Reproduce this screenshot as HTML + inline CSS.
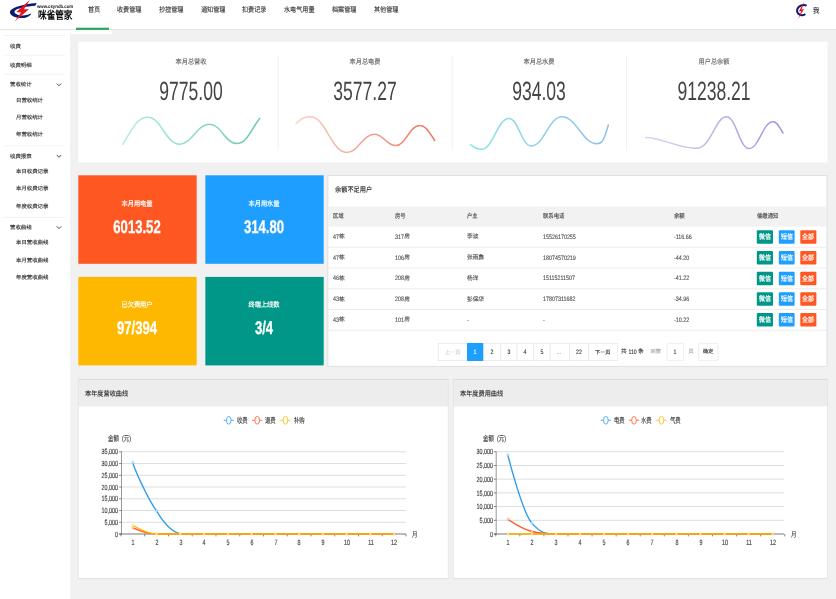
<!DOCTYPE html>
<html lang="zh-CN"><head><meta charset="utf-8"><title>咪雀管家</title>
<style>
html,body{margin:0;padding:0;}
body{width:836px;height:599px;overflow:hidden;position:relative;background:#f1f1f1;font-family:"Liberation Sans",sans-serif;}
.t{position:absolute;white-space:pre;margin:0;padding:0;text-rendering:geometricPrecision;}
.b{position:absolute;}
svg{position:absolute;left:0;top:0;overflow:visible;}
#root{position:absolute;left:0;top:0;width:836px;height:599px;overflow:hidden;will-change:transform;}
</style></head><body><div id="root">
<svg width="836" height="599" viewBox="0 0 836 599"><rect x="0.00" y="0.00" width="836.00" height="29.20" fill="#fff"/><path d="M0.00 29.50 L836.00 29.50" stroke="#e2e2e2" stroke-width="0.8"/></svg>
<svg width="80" height="24" viewBox="0 0 80 24">
<path d="M36.8 3.1 C30 3.4 20.5 5.4 14.5 7.8 C10.4 9.5 9.1 11.8 10.5 13.9 C12.5 16.9 18.5 18.5 24.5 17.9 C27.8 17.6 30.4 15.7 31.4 13.3 C29.6 14.4 26.2 15.4 22.6 15.4 C18.6 15.4 14.8 14 14.5 11.9 C14.3 10.2 16.8 9 21 7.9 C26 6.6 31.5 5.9 35.2 5.7 Z" fill="#0c1a74"/>
<path d="M29.9 0 L16.3 12.1 L21.1 12.4 L14.8 21.3 L28.9 9.3 L24 9.2 Z" fill="#e8141c"/>
</svg>
<div class="t" style="top:3.98px;height:7.84px;line-height:7.84px;font-size:4.9px;color:#111;font-weight:bold;left:37.30px;transform:scaleX(0.88);transform-origin:0 50%;">www.csyndb.com</div>
<div class="t" style="top:7.80px;height:17.6px;line-height:17.6px;font-size:11.0px;color:#111;font-weight:bold;left:37.80px;transform:scaleX(0.78);transform-origin:0 50%;">咪雀管家</div>
<div class="t" style="top:5.30px;height:11.2px;line-height:11.2px;font-size:7.0px;color:#2e2e2e;left:87.60px;transform:scaleX(0.875);transform-origin:0 50%;-webkit-text-stroke:0.1px #2e2e2e;">首页</div>
<div class="t" style="top:5.30px;height:11.2px;line-height:11.2px;font-size:7.0px;color:#2e2e2e;left:117.20px;transform:scaleX(0.875);transform-origin:0 50%;-webkit-text-stroke:0.1px #2e2e2e;">收费管理</div>
<div class="t" style="top:5.30px;height:11.2px;line-height:11.2px;font-size:7.0px;color:#2e2e2e;left:158.90px;transform:scaleX(0.875);transform-origin:0 50%;-webkit-text-stroke:0.1px #2e2e2e;">抄控管理</div>
<div class="t" style="top:5.30px;height:11.2px;line-height:11.2px;font-size:7.0px;color:#2e2e2e;left:200.60px;transform:scaleX(0.875);transform-origin:0 50%;-webkit-text-stroke:0.1px #2e2e2e;">通知管理</div>
<div class="t" style="top:5.30px;height:11.2px;line-height:11.2px;font-size:7.0px;color:#2e2e2e;left:242.30px;transform:scaleX(0.875);transform-origin:0 50%;-webkit-text-stroke:0.1px #2e2e2e;">扣费记录</div>
<div class="t" style="top:5.30px;height:11.2px;line-height:11.2px;font-size:7.0px;color:#2e2e2e;left:284.00px;transform:scaleX(0.875);transform-origin:0 50%;-webkit-text-stroke:0.1px #2e2e2e;">水电气用量</div>
<div class="t" style="top:5.30px;height:11.2px;line-height:11.2px;font-size:7.0px;color:#2e2e2e;left:331.90px;transform:scaleX(0.875);transform-origin:0 50%;-webkit-text-stroke:0.1px #2e2e2e;">档案管理</div>
<div class="t" style="top:5.30px;height:11.2px;line-height:11.2px;font-size:7.0px;color:#2e2e2e;left:373.60px;transform:scaleX(0.875);transform-origin:0 50%;-webkit-text-stroke:0.1px #2e2e2e;">其他管理</div>
<svg width="836" height="599" viewBox="0 0 836 599"><rect x="76.00" y="27.70" width="33.00" height="2.20" fill="#2aa55c"/></svg>
<svg width="836" height="30" viewBox="0 0 836 30">
<path d="M806.6 5.6 C803.4 4.2 798.4 5.6 797.2 9.4 C796.2 13 799.4 15.6 802.6 15.2 C803.6 15.1 804.6 14.6 805.2 14" fill="none" stroke="#0c1a74" stroke-width="2"/>
<path d="M804.3 1.6 L798.8 11.4 L801.3 11.1 L798 19.2 L804 9.1 L801.5 9.4 Z" fill="#e8141c"/>
</svg>
<div class="t" style="top:5.44px;height:11.52px;line-height:11.52px;font-size:7.2px;color:#2e2e2e;left:812.60px;transform:scaleX(0.88);transform-origin:0 50%;-webkit-text-stroke:0.1px #2e2e2e;">我</div>
<svg width="836" height="599" viewBox="0 0 836 599"><rect x="70.50" y="30.30" width="41.50" height="3.70" fill="#fff"/><rect x="0.00" y="30.30" width="70.00" height="568.70" fill="#fff"/><path d="M4.00 35.50 L65.00 35.50" stroke="#efefef" stroke-width="0.8"/><path d="M4.00 55.20 L65.00 55.20" stroke="#efefef" stroke-width="0.8"/><path d="M4.00 74.10 L65.00 74.10" stroke="#efefef" stroke-width="0.8"/><path d="M4.00 145.80 L65.00 145.80" stroke="#efefef" stroke-width="0.8"/><path d="M4.00 217.40 L65.00 217.40" stroke="#efefef" stroke-width="0.8"/></svg>
<div class="t" style="top:42.74px;height:8.32px;line-height:8.32px;font-size:5.2px;color:#333;left:9.80px;transform:scaleX(1.04);transform-origin:0 50%;-webkit-text-stroke:0.13px #333;">收费</div>
<div class="t" style="top:61.64px;height:8.32px;line-height:8.32px;font-size:5.2px;color:#333;left:9.80px;transform:scaleX(1.04);transform-origin:0 50%;-webkit-text-stroke:0.13px #333;">收费明细</div>
<div class="t" style="top:81.44px;height:8.32px;line-height:8.32px;font-size:5.2px;color:#333;left:9.80px;transform:scaleX(1.04);transform-origin:0 50%;-webkit-text-stroke:0.13px #333;">营收统计</div>
<svg width="70" height="599" viewBox="0 0 70 599"><path d="M56.8 83.5 L59 85.8 L61.2 83.5" fill="none" stroke="#444" stroke-width="0.95"/></svg>
<div class="t" style="top:152.94px;height:8.32px;line-height:8.32px;font-size:5.2px;color:#333;left:9.80px;transform:scaleX(1.04);transform-origin:0 50%;-webkit-text-stroke:0.13px #333;">收费报表</div>
<svg width="70" height="599" viewBox="0 0 70 599"><path d="M56.8 155.0 L59 157.3 L61.2 155.0" fill="none" stroke="#444" stroke-width="0.95"/></svg>
<div class="t" style="top:224.24px;height:8.32px;line-height:8.32px;font-size:5.2px;color:#333;left:9.80px;transform:scaleX(1.04);transform-origin:0 50%;-webkit-text-stroke:0.13px #333;">营收曲线</div>
<svg width="70" height="599" viewBox="0 0 70 599"><path d="M56.8 226.3 L59 228.60000000000002 L61.2 226.3" fill="none" stroke="#444" stroke-width="0.95"/></svg>
<div class="t" style="top:96.64px;height:8.32px;line-height:8.32px;font-size:5.2px;color:#333;left:15.90px;transform:scaleX(1.04);transform-origin:0 50%;-webkit-text-stroke:0.13px #333;">日营收统计</div>
<div class="t" style="top:113.84px;height:8.32px;line-height:8.32px;font-size:5.2px;color:#333;left:15.90px;transform:scaleX(1.04);transform-origin:0 50%;-webkit-text-stroke:0.13px #333;">月营收统计</div>
<div class="t" style="top:130.84px;height:8.32px;line-height:8.32px;font-size:5.2px;color:#333;left:15.90px;transform:scaleX(1.04);transform-origin:0 50%;-webkit-text-stroke:0.13px #333;">年营收统计</div>
<div class="t" style="top:168.24px;height:8.32px;line-height:8.32px;font-size:5.2px;color:#333;left:15.90px;transform:scaleX(1.04);transform-origin:0 50%;-webkit-text-stroke:0.13px #333;">本日收费记录</div>
<div class="t" style="top:185.34px;height:8.32px;line-height:8.32px;font-size:5.2px;color:#333;left:15.90px;transform:scaleX(1.04);transform-origin:0 50%;-webkit-text-stroke:0.13px #333;">本月收费记录</div>
<div class="t" style="top:202.54px;height:8.32px;line-height:8.32px;font-size:5.2px;color:#333;left:15.90px;transform:scaleX(1.04);transform-origin:0 50%;-webkit-text-stroke:0.13px #333;">年度收费记录</div>
<div class="t" style="top:239.44px;height:8.32px;line-height:8.32px;font-size:5.2px;color:#333;left:15.90px;transform:scaleX(1.04);transform-origin:0 50%;-webkit-text-stroke:0.13px #333;">本日营收曲线</div>
<div class="t" style="top:256.54px;height:8.32px;line-height:8.32px;font-size:5.2px;color:#333;left:15.90px;transform:scaleX(1.04);transform-origin:0 50%;-webkit-text-stroke:0.13px #333;">本月营收曲线</div>
<div class="t" style="top:274.14px;height:8.32px;line-height:8.32px;font-size:5.2px;color:#333;left:15.90px;transform:scaleX(1.04);transform-origin:0 50%;-webkit-text-stroke:0.13px #333;">年度营收曲线</div>
<svg width="836" height="599" viewBox="0 0 836 599"><rect x="78.30" y="41.80" width="749.20" height="120.60" fill="#fff"/><path d="M278.10 55.00 L278.10 150.60" stroke="#eeeeee" stroke-width="0.8"/><path d="M452.30 55.00 L452.30 150.60" stroke="#eeeeee" stroke-width="0.8"/><path d="M626.50 55.00 L626.50 150.60" stroke="#eeeeee" stroke-width="0.8"/></svg>
<div class="t" style="top:56.60px;height:11.2px;line-height:11.2px;font-size:7.0px;color:#666;-webkit-text-stroke:0.12px #666;left:91.20px;width:200px;text-align:center;transform:scaleX(0.885);transform-origin:50% 50%;">本月总营收</div>
<div class="t" style="top:70.48px;height:42.24px;line-height:42.24px;font-size:26.4px;color:#444;left:61.20px;width:260px;text-align:center;transform:scaleX(0.665);transform-origin:50% 50%;">9775.00</div>
<div class="t" style="top:56.60px;height:11.2px;line-height:11.2px;font-size:7.0px;color:#666;-webkit-text-stroke:0.12px #666;left:265.30px;width:200px;text-align:center;transform:scaleX(0.885);transform-origin:50% 50%;">本月总电费</div>
<div class="t" style="top:70.48px;height:42.24px;line-height:42.24px;font-size:26.4px;color:#444;left:235.30px;width:260px;text-align:center;transform:scaleX(0.665);transform-origin:50% 50%;">3577.27</div>
<div class="t" style="top:56.60px;height:11.2px;line-height:11.2px;font-size:7.0px;color:#666;-webkit-text-stroke:0.12px #666;left:439.40px;width:200px;text-align:center;transform:scaleX(0.885);transform-origin:50% 50%;">本月总水费</div>
<div class="t" style="top:70.48px;height:42.24px;line-height:42.24px;font-size:26.4px;color:#444;left:409.40px;width:260px;text-align:center;transform:scaleX(0.665);transform-origin:50% 50%;">934.03</div>
<div class="t" style="top:56.60px;height:11.2px;line-height:11.2px;font-size:7.0px;color:#666;-webkit-text-stroke:0.12px #666;left:613.60px;width:200px;text-align:center;transform:scaleX(0.885);transform-origin:50% 50%;">用户总余额</div>
<div class="t" style="top:70.48px;height:42.24px;line-height:42.24px;font-size:26.4px;color:#444;left:583.60px;width:260px;text-align:center;transform:scaleX(0.665);transform-origin:50% 50%;">91238.21</div>
<svg width="836" height="599" viewBox="0 0 836 599"><defs><linearGradient id="g1" gradientUnits="userSpaceOnUse" x1="122" y1="0" x2="260" y2="0"><stop offset="0" stop-color="#b4f0dc"/><stop offset="1" stop-color="#66c9aa"/></linearGradient></defs><path d="M122.8 144.3 C133.3 127.4 137.4 117.2 147.9 117.2 C161.1 117.2 166.1 144.3 179.3 144.3 C191.9 144.3 196.8 124.2 209.4 124.2 C221.0 124.2 225.4 143.6 237.0 143.6 C246.5 143.6 250.2 130.8 259.7 118.4" fill="none" stroke="url(#g1)" stroke-width="1.5" stroke-linecap="round"/></svg>
<svg width="836" height="599" viewBox="0 0 836 599"><defs><linearGradient id="g2" gradientUnits="userSpaceOnUse" x1="296" y1="0" x2="435" y2="0"><stop offset="0" stop-color="#fbd0c5"/><stop offset="1" stop-color="#ec7357"/></linearGradient></defs><path d="M296.0 123.5 C302.0 118.1 304.3 116.7 310.3 116.7 C325.6 116.7 331.4 152.4 346.7 152.4 C358.3 152.4 362.8 134.3 374.4 134.3 C383.3 134.3 386.8 145.6 395.7 145.6 C405.7 145.6 409.6 125.5 419.6 125.5 C425.9 125.5 428.4 131.0 434.7 140.5" fill="none" stroke="url(#g2)" stroke-width="1.5" stroke-linecap="round"/></svg>
<svg width="836" height="599" viewBox="0 0 836 599"><defs><linearGradient id="g3" gradientUnits="userSpaceOnUse" x1="470" y1="0" x2="609" y2="0"><stop offset="0" stop-color="#8ee3ea"/><stop offset="1" stop-color="#8cc0e8"/></linearGradient></defs><path d="M470.7 144.8 C475.2 148.0 477.0 149.3 481.5 149.3 C493.1 149.3 497.4 118.4 509.0 118.4 C518.2 118.4 521.8 146.0 531.0 146.0 C544.0 146.0 548.9 116.7 561.9 116.7 C576.6 116.7 582.3 143.8 597.0 143.8 C601.7 143.8 603.6 141.6 608.3 125.0" fill="none" stroke="url(#g3)" stroke-width="1.5" stroke-linecap="round"/></svg>
<svg width="836" height="599" viewBox="0 0 836 599"><defs><linearGradient id="g4" gradientUnits="userSpaceOnUse" x1="645" y1="0" x2="783" y2="0"><stop offset="0" stop-color="#e3cff3"/><stop offset="1" stop-color="#9a98de"/></linearGradient></defs><path d="M645.6 137.5 C660 137.2 678 148.3 696.5 148.3 C711 148.3 715.5 116.7 726.5 116.7  C736.0 116.7 739.5 148.6 749.0 148.6 C759.1 148.6 762.9 121.7 773.0 121.7 C777.2 121.7 778.8 126.3 783.0 133.0" fill="none" stroke="url(#g4)" stroke-width="1.5" stroke-linecap="round"/></svg>
<svg width="836" height="599" viewBox="0 0 836 599"><rect x="78.30" y="175.30" width="118.35" height="88.50" fill="#FF5722"/></svg>
<div class="t" style="top:198.72px;height:11.36px;line-height:11.36px;font-size:7.1px;color:#fff;left:37.40px;width:200px;text-align:center;transform:scaleX(0.87);transform-origin:50% 50%;-webkit-text-stroke:0.18px #fff;">本月用电量</div>
<div class="t" style="top:212.64px;height:29.12px;line-height:29.12px;font-size:18.2px;color:#fff;font-weight:bold;left:37.20px;width:200px;text-align:center;transform:scaleX(0.72);transform-origin:50% 50%;-webkit-text-stroke:0.3px #fff;">6013.52</div>
<svg width="836" height="599" viewBox="0 0 836 599"><rect x="205.35" y="175.30" width="118.35" height="88.50" fill="#1E9FFF"/></svg>
<div class="t" style="top:198.72px;height:11.36px;line-height:11.36px;font-size:7.1px;color:#fff;left:164.45px;width:200px;text-align:center;transform:scaleX(0.87);transform-origin:50% 50%;-webkit-text-stroke:0.18px #fff;">本月用水量</div>
<div class="t" style="top:212.64px;height:29.12px;line-height:29.12px;font-size:18.2px;color:#fff;font-weight:bold;left:164.25px;width:200px;text-align:center;transform:scaleX(0.72);transform-origin:50% 50%;-webkit-text-stroke:0.3px #fff;">314.80</div>
<svg width="836" height="599" viewBox="0 0 836 599"><rect x="78.30" y="276.90" width="118.35" height="88.50" fill="#FFB800"/></svg>
<div class="t" style="top:300.32px;height:11.36px;line-height:11.36px;font-size:7.1px;color:#fff;left:37.40px;width:200px;text-align:center;transform:scaleX(0.87);transform-origin:50% 50%;-webkit-text-stroke:0.18px #fff;">已欠费用户</div>
<div class="t" style="top:314.24px;height:29.12px;line-height:29.12px;font-size:18.2px;color:#fff;font-weight:bold;left:37.20px;width:200px;text-align:center;transform:scaleX(0.72);transform-origin:50% 50%;-webkit-text-stroke:0.3px #fff;">97/394</div>
<svg width="836" height="599" viewBox="0 0 836 599"><rect x="205.35" y="276.90" width="118.35" height="88.50" fill="#009688"/></svg>
<div class="t" style="top:300.32px;height:11.36px;line-height:11.36px;font-size:7.1px;color:#fff;left:164.45px;width:200px;text-align:center;transform:scaleX(0.87);transform-origin:50% 50%;-webkit-text-stroke:0.18px #fff;">终端上线数</div>
<div class="t" style="top:314.24px;height:29.12px;line-height:29.12px;font-size:18.2px;color:#fff;font-weight:bold;left:164.25px;width:200px;text-align:center;transform:scaleX(0.72);transform-origin:50% 50%;-webkit-text-stroke:0.3px #fff;">3/4</div>
<svg width="836" height="599" viewBox="0 0 836 599"><rect x="327.90" y="175.50" width="499.10" height="190.80" fill="#fff" stroke="#dadada" stroke-width="0.8"/></svg>
<div class="t" style="top:184.50px;height:11.2px;line-height:11.2px;font-size:7.0px;color:#222;-webkit-text-stroke:0.12px #222;left:334.90px;transform:scaleX(0.885);transform-origin:0 50%;">余额不足用户</div>
<svg width="836" height="599" viewBox="0 0 836 599"><rect x="328.30" y="206.50" width="498.30" height="20.10" fill="#f2f2f2"/></svg>
<div class="t" style="top:212.24px;height:9.92px;line-height:9.92px;font-size:6.2px;color:#444;-webkit-text-stroke:0.12px #444;left:333.00px;transform:scaleX(0.86);transform-origin:0 50%;">区域</div>
<div class="t" style="top:212.24px;height:9.92px;line-height:9.92px;font-size:6.2px;color:#444;-webkit-text-stroke:0.12px #444;left:395.40px;transform:scaleX(0.86);transform-origin:0 50%;">房号</div>
<div class="t" style="top:212.24px;height:9.92px;line-height:9.92px;font-size:6.2px;color:#444;-webkit-text-stroke:0.12px #444;left:467.00px;transform:scaleX(0.86);transform-origin:0 50%;">户主</div>
<div class="t" style="top:212.24px;height:9.92px;line-height:9.92px;font-size:6.2px;color:#444;-webkit-text-stroke:0.12px #444;left:543.30px;transform:scaleX(0.86);transform-origin:0 50%;">联系电话</div>
<div class="t" style="top:212.24px;height:9.92px;line-height:9.92px;font-size:6.2px;color:#444;-webkit-text-stroke:0.12px #444;left:673.60px;transform:scaleX(0.86);transform-origin:0 50%;">余额</div>
<div class="t" style="top:212.24px;height:9.92px;line-height:9.92px;font-size:6.2px;color:#444;-webkit-text-stroke:0.12px #444;left:756.80px;transform:scaleX(0.86);transform-origin:0 50%;">催缴通知</div>
<svg width="836" height="599" viewBox="0 0 836 599"><path d="M328.30 247.32 L826.60 247.32" stroke="#e9e9e9" stroke-width="0.8"/></svg>
<div class="t" style="top:232.78px;height:10.24px;line-height:10.24px;font-size:6.4px;color:#505050;-webkit-text-stroke:0.12px #505050;left:333.00px;transform:scaleX(0.84);transform-origin:0 50%;">47</div>
<div class="t" style="top:233.34px;height:9.12px;line-height:9.12px;font-size:5.7px;color:#505050;-webkit-text-stroke:0.12px #505050;left:338.98px;">栋</div>
<div class="t" style="top:232.78px;height:10.24px;line-height:10.24px;font-size:6.4px;color:#505050;-webkit-text-stroke:0.12px #505050;left:395.40px;transform:scaleX(0.84);transform-origin:0 50%;">317</div>
<div class="t" style="top:233.34px;height:9.12px;line-height:9.12px;font-size:5.7px;color:#505050;-webkit-text-stroke:0.12px #505050;left:404.37px;">房</div>
<div class="t" style="top:233.34px;height:9.12px;line-height:9.12px;font-size:5.7px;color:#505050;-webkit-text-stroke:0.12px #505050;left:467.00px;">李波</div>
<div class="t" style="top:232.78px;height:10.24px;line-height:10.24px;font-size:6.4px;color:#505050;-webkit-text-stroke:0.12px #505050;left:543.30px;transform:scaleX(0.84);transform-origin:0 50%;">15526170255</div>
<div class="t" style="top:232.78px;height:10.24px;line-height:10.24px;font-size:6.4px;color:#505050;-webkit-text-stroke:0.12px #505050;left:673.60px;transform:scaleX(0.84);transform-origin:0 50%;">-116.66</div>
<svg width="836" height="599" viewBox="0 0 836 599"><rect x="756.80" y="230.20" width="16.20" height="13.50" fill="#009688" rx="1"/></svg>
<div class="t" style="top:232.18px;height:11.04px;line-height:11.04px;font-size:6.9px;color:#fff;left:749.90px;width:30px;text-align:center;transform:scaleX(0.86);transform-origin:50% 50%;-webkit-text-stroke:0.2px #fff;">微信</div>
<svg width="836" height="599" viewBox="0 0 836 599"><rect x="778.80" y="230.20" width="15.80" height="13.50" fill="#1E9FFF" rx="1"/></svg>
<div class="t" style="top:232.18px;height:11.04px;line-height:11.04px;font-size:6.9px;color:#fff;left:771.70px;width:30px;text-align:center;transform:scaleX(0.86);transform-origin:50% 50%;-webkit-text-stroke:0.2px #fff;">短信</div>
<svg width="836" height="599" viewBox="0 0 836 599"><rect x="800.30" y="230.20" width="16.10" height="13.50" fill="#FF5722" rx="1"/></svg>
<div class="t" style="top:232.18px;height:11.04px;line-height:11.04px;font-size:6.9px;color:#fff;left:793.35px;width:30px;text-align:center;transform:scaleX(0.86);transform-origin:50% 50%;-webkit-text-stroke:0.2px #fff;">全部</div>
<svg width="836" height="599" viewBox="0 0 836 599"><path d="M328.30 268.04 L826.60 268.04" stroke="#e9e9e9" stroke-width="0.8"/></svg>
<div class="t" style="top:253.50px;height:10.24px;line-height:10.24px;font-size:6.4px;color:#505050;-webkit-text-stroke:0.12px #505050;left:333.00px;transform:scaleX(0.84);transform-origin:0 50%;">47</div>
<div class="t" style="top:254.06px;height:9.12px;line-height:9.12px;font-size:5.7px;color:#505050;-webkit-text-stroke:0.12px #505050;left:338.98px;">栋</div>
<div class="t" style="top:253.50px;height:10.24px;line-height:10.24px;font-size:6.4px;color:#505050;-webkit-text-stroke:0.12px #505050;left:395.40px;transform:scaleX(0.84);transform-origin:0 50%;">106</div>
<div class="t" style="top:254.06px;height:9.12px;line-height:9.12px;font-size:5.7px;color:#505050;-webkit-text-stroke:0.12px #505050;left:404.37px;">房</div>
<div class="t" style="top:254.06px;height:9.12px;line-height:9.12px;font-size:5.7px;color:#505050;-webkit-text-stroke:0.12px #505050;left:467.00px;">张雨鑫</div>
<div class="t" style="top:253.50px;height:10.24px;line-height:10.24px;font-size:6.4px;color:#505050;-webkit-text-stroke:0.12px #505050;left:543.30px;transform:scaleX(0.84);transform-origin:0 50%;">18074570219</div>
<div class="t" style="top:253.50px;height:10.24px;line-height:10.24px;font-size:6.4px;color:#505050;-webkit-text-stroke:0.12px #505050;left:673.60px;transform:scaleX(0.84);transform-origin:0 50%;">-44.20</div>
<svg width="836" height="599" viewBox="0 0 836 599"><rect x="756.80" y="250.92" width="16.20" height="13.50" fill="#009688" rx="1"/></svg>
<div class="t" style="top:252.90px;height:11.04px;line-height:11.04px;font-size:6.9px;color:#fff;left:749.90px;width:30px;text-align:center;transform:scaleX(0.86);transform-origin:50% 50%;-webkit-text-stroke:0.2px #fff;">微信</div>
<svg width="836" height="599" viewBox="0 0 836 599"><rect x="778.80" y="250.92" width="15.80" height="13.50" fill="#1E9FFF" rx="1"/></svg>
<div class="t" style="top:252.90px;height:11.04px;line-height:11.04px;font-size:6.9px;color:#fff;left:771.70px;width:30px;text-align:center;transform:scaleX(0.86);transform-origin:50% 50%;-webkit-text-stroke:0.2px #fff;">短信</div>
<svg width="836" height="599" viewBox="0 0 836 599"><rect x="800.30" y="250.92" width="16.10" height="13.50" fill="#FF5722" rx="1"/></svg>
<div class="t" style="top:252.90px;height:11.04px;line-height:11.04px;font-size:6.9px;color:#fff;left:793.35px;width:30px;text-align:center;transform:scaleX(0.86);transform-origin:50% 50%;-webkit-text-stroke:0.2px #fff;">全部</div>
<svg width="836" height="599" viewBox="0 0 836 599"><path d="M328.30 288.76 L826.60 288.76" stroke="#e9e9e9" stroke-width="0.8"/></svg>
<div class="t" style="top:274.22px;height:10.24px;line-height:10.24px;font-size:6.4px;color:#505050;-webkit-text-stroke:0.12px #505050;left:333.00px;transform:scaleX(0.84);transform-origin:0 50%;">46</div>
<div class="t" style="top:274.78px;height:9.12px;line-height:9.12px;font-size:5.7px;color:#505050;-webkit-text-stroke:0.12px #505050;left:338.98px;">栋</div>
<div class="t" style="top:274.22px;height:10.24px;line-height:10.24px;font-size:6.4px;color:#505050;-webkit-text-stroke:0.12px #505050;left:395.40px;transform:scaleX(0.84);transform-origin:0 50%;">208</div>
<div class="t" style="top:274.78px;height:9.12px;line-height:9.12px;font-size:5.7px;color:#505050;-webkit-text-stroke:0.12px #505050;left:404.37px;">房</div>
<div class="t" style="top:274.78px;height:9.12px;line-height:9.12px;font-size:5.7px;color:#505050;-webkit-text-stroke:0.12px #505050;left:467.00px;">杨洋</div>
<div class="t" style="top:274.22px;height:10.24px;line-height:10.24px;font-size:6.4px;color:#505050;-webkit-text-stroke:0.12px #505050;left:543.30px;transform:scaleX(0.84);transform-origin:0 50%;">15115211507</div>
<div class="t" style="top:274.22px;height:10.24px;line-height:10.24px;font-size:6.4px;color:#505050;-webkit-text-stroke:0.12px #505050;left:673.60px;transform:scaleX(0.84);transform-origin:0 50%;">-41.22</div>
<svg width="836" height="599" viewBox="0 0 836 599"><rect x="756.80" y="271.64" width="16.20" height="13.50" fill="#009688" rx="1"/></svg>
<div class="t" style="top:273.62px;height:11.04px;line-height:11.04px;font-size:6.9px;color:#fff;left:749.90px;width:30px;text-align:center;transform:scaleX(0.86);transform-origin:50% 50%;-webkit-text-stroke:0.2px #fff;">微信</div>
<svg width="836" height="599" viewBox="0 0 836 599"><rect x="778.80" y="271.64" width="15.80" height="13.50" fill="#1E9FFF" rx="1"/></svg>
<div class="t" style="top:273.62px;height:11.04px;line-height:11.04px;font-size:6.9px;color:#fff;left:771.70px;width:30px;text-align:center;transform:scaleX(0.86);transform-origin:50% 50%;-webkit-text-stroke:0.2px #fff;">短信</div>
<svg width="836" height="599" viewBox="0 0 836 599"><rect x="800.30" y="271.64" width="16.10" height="13.50" fill="#FF5722" rx="1"/></svg>
<div class="t" style="top:273.62px;height:11.04px;line-height:11.04px;font-size:6.9px;color:#fff;left:793.35px;width:30px;text-align:center;transform:scaleX(0.86);transform-origin:50% 50%;-webkit-text-stroke:0.2px #fff;">全部</div>
<svg width="836" height="599" viewBox="0 0 836 599"><path d="M328.30 309.48 L826.60 309.48" stroke="#e9e9e9" stroke-width="0.8"/></svg>
<div class="t" style="top:294.94px;height:10.24px;line-height:10.24px;font-size:6.4px;color:#505050;-webkit-text-stroke:0.12px #505050;left:333.00px;transform:scaleX(0.84);transform-origin:0 50%;">43</div>
<div class="t" style="top:295.50px;height:9.12px;line-height:9.12px;font-size:5.7px;color:#505050;-webkit-text-stroke:0.12px #505050;left:338.98px;">栋</div>
<div class="t" style="top:294.94px;height:10.24px;line-height:10.24px;font-size:6.4px;color:#505050;-webkit-text-stroke:0.12px #505050;left:395.40px;transform:scaleX(0.84);transform-origin:0 50%;">208</div>
<div class="t" style="top:295.50px;height:9.12px;line-height:9.12px;font-size:5.7px;color:#505050;-webkit-text-stroke:0.12px #505050;left:404.37px;">房</div>
<div class="t" style="top:295.50px;height:9.12px;line-height:9.12px;font-size:5.7px;color:#505050;-webkit-text-stroke:0.12px #505050;left:467.00px;">彭保华</div>
<div class="t" style="top:294.94px;height:10.24px;line-height:10.24px;font-size:6.4px;color:#505050;-webkit-text-stroke:0.12px #505050;left:543.30px;transform:scaleX(0.84);transform-origin:0 50%;">17807311682</div>
<div class="t" style="top:294.94px;height:10.24px;line-height:10.24px;font-size:6.4px;color:#505050;-webkit-text-stroke:0.12px #505050;left:673.60px;transform:scaleX(0.84);transform-origin:0 50%;">-34.96</div>
<svg width="836" height="599" viewBox="0 0 836 599"><rect x="756.80" y="292.36" width="16.20" height="13.50" fill="#009688" rx="1"/></svg>
<div class="t" style="top:294.34px;height:11.04px;line-height:11.04px;font-size:6.9px;color:#fff;left:749.90px;width:30px;text-align:center;transform:scaleX(0.86);transform-origin:50% 50%;-webkit-text-stroke:0.2px #fff;">微信</div>
<svg width="836" height="599" viewBox="0 0 836 599"><rect x="778.80" y="292.36" width="15.80" height="13.50" fill="#1E9FFF" rx="1"/></svg>
<div class="t" style="top:294.34px;height:11.04px;line-height:11.04px;font-size:6.9px;color:#fff;left:771.70px;width:30px;text-align:center;transform:scaleX(0.86);transform-origin:50% 50%;-webkit-text-stroke:0.2px #fff;">短信</div>
<svg width="836" height="599" viewBox="0 0 836 599"><rect x="800.30" y="292.36" width="16.10" height="13.50" fill="#FF5722" rx="1"/></svg>
<div class="t" style="top:294.34px;height:11.04px;line-height:11.04px;font-size:6.9px;color:#fff;left:793.35px;width:30px;text-align:center;transform:scaleX(0.86);transform-origin:50% 50%;-webkit-text-stroke:0.2px #fff;">全部</div>
<svg width="836" height="599" viewBox="0 0 836 599"><path d="M328.30 330.20 L826.60 330.20" stroke="#e9e9e9" stroke-width="0.8"/></svg>
<div class="t" style="top:315.66px;height:10.24px;line-height:10.24px;font-size:6.4px;color:#505050;-webkit-text-stroke:0.12px #505050;left:333.00px;transform:scaleX(0.84);transform-origin:0 50%;">43</div>
<div class="t" style="top:316.22px;height:9.12px;line-height:9.12px;font-size:5.7px;color:#505050;-webkit-text-stroke:0.12px #505050;left:338.98px;">栋</div>
<div class="t" style="top:315.66px;height:10.24px;line-height:10.24px;font-size:6.4px;color:#505050;-webkit-text-stroke:0.12px #505050;left:395.40px;transform:scaleX(0.84);transform-origin:0 50%;">101</div>
<div class="t" style="top:316.22px;height:9.12px;line-height:9.12px;font-size:5.7px;color:#505050;-webkit-text-stroke:0.12px #505050;left:404.37px;">房</div>
<div class="t" style="top:315.66px;height:10.24px;line-height:10.24px;font-size:6.4px;color:#505050;-webkit-text-stroke:0.12px #505050;left:467.00px;transform:scaleX(0.84);transform-origin:0 50%;">-</div>
<div class="t" style="top:315.66px;height:10.24px;line-height:10.24px;font-size:6.4px;color:#505050;-webkit-text-stroke:0.12px #505050;left:543.30px;transform:scaleX(0.84);transform-origin:0 50%;">-</div>
<div class="t" style="top:315.66px;height:10.24px;line-height:10.24px;font-size:6.4px;color:#505050;-webkit-text-stroke:0.12px #505050;left:673.60px;transform:scaleX(0.84);transform-origin:0 50%;">-10.22</div>
<svg width="836" height="599" viewBox="0 0 836 599"><rect x="756.80" y="313.08" width="16.20" height="13.50" fill="#009688" rx="1"/></svg>
<div class="t" style="top:315.06px;height:11.04px;line-height:11.04px;font-size:6.9px;color:#fff;left:749.90px;width:30px;text-align:center;transform:scaleX(0.86);transform-origin:50% 50%;-webkit-text-stroke:0.2px #fff;">微信</div>
<svg width="836" height="599" viewBox="0 0 836 599"><rect x="778.80" y="313.08" width="15.80" height="13.50" fill="#1E9FFF" rx="1"/></svg>
<div class="t" style="top:315.06px;height:11.04px;line-height:11.04px;font-size:6.9px;color:#fff;left:771.70px;width:30px;text-align:center;transform:scaleX(0.86);transform-origin:50% 50%;-webkit-text-stroke:0.2px #fff;">短信</div>
<svg width="836" height="599" viewBox="0 0 836 599"><rect x="800.30" y="313.08" width="16.10" height="13.50" fill="#FF5722" rx="1"/></svg>
<div class="t" style="top:315.06px;height:11.04px;line-height:11.04px;font-size:6.9px;color:#fff;left:793.35px;width:30px;text-align:center;transform:scaleX(0.86);transform-origin:50% 50%;-webkit-text-stroke:0.2px #fff;">全部</div>
<svg width="836" height="599" viewBox="0 0 836 599"><rect x="438.55" y="343.35" width="28.80" height="17.30" fill="#fff" stroke="#e6e6e6" stroke-width="0.7"/></svg>
<div class="t" style="top:348.64px;height:8.32px;line-height:8.32px;font-size:5.2px;color:#d2d2d2;-webkit-text-stroke:0.12px #d2d2d2;left:432.60px;width:40px;text-align:center;">上一页</div>
<svg width="836" height="599" viewBox="0 0 836 599"><rect x="467.00" y="343.00" width="16.50" height="18.00" fill="#1E9FFF"/></svg>
<div class="t" style="top:347.60px;height:10.4px;line-height:10.4px;font-size:6.5px;color:#fff;-webkit-text-stroke:0.12px #fff;left:455.25px;width:40px;text-align:center;transform:scaleX(0.8);transform-origin:50% 50%;">1</div>
<svg width="836" height="599" viewBox="0 0 836 599"><rect x="483.85" y="343.35" width="16.90" height="17.30" fill="#fff" stroke="#e6e6e6" stroke-width="0.7"/></svg>
<div class="t" style="top:347.60px;height:10.4px;line-height:10.4px;font-size:6.5px;color:#333;-webkit-text-stroke:0.12px #333;left:471.95px;width:40px;text-align:center;transform:scaleX(0.8);transform-origin:50% 50%;">2</div>
<svg width="836" height="599" viewBox="0 0 836 599"><rect x="500.75" y="343.35" width="16.30" height="17.30" fill="#fff" stroke="#e6e6e6" stroke-width="0.7"/></svg>
<div class="t" style="top:347.60px;height:10.4px;line-height:10.4px;font-size:6.5px;color:#333;-webkit-text-stroke:0.12px #333;left:488.55px;width:40px;text-align:center;transform:scaleX(0.8);transform-origin:50% 50%;">3</div>
<svg width="836" height="599" viewBox="0 0 836 599"><rect x="517.05" y="343.35" width="16.80" height="17.30" fill="#fff" stroke="#e6e6e6" stroke-width="0.7"/></svg>
<div class="t" style="top:347.60px;height:10.4px;line-height:10.4px;font-size:6.5px;color:#333;-webkit-text-stroke:0.12px #333;left:505.10px;width:40px;text-align:center;transform:scaleX(0.8);transform-origin:50% 50%;">4</div>
<svg width="836" height="599" viewBox="0 0 836 599"><rect x="533.85" y="343.35" width="16.30" height="17.30" fill="#fff" stroke="#e6e6e6" stroke-width="0.7"/></svg>
<div class="t" style="top:347.60px;height:10.4px;line-height:10.4px;font-size:6.5px;color:#333;-webkit-text-stroke:0.12px #333;left:521.65px;width:40px;text-align:center;transform:scaleX(0.8);transform-origin:50% 50%;">5</div>
<svg width="836" height="599" viewBox="0 0 836 599"><rect x="550.15" y="343.35" width="19.20" height="17.30" fill="#fff" stroke="#e6e6e6" stroke-width="0.7"/></svg>
<div class="t" style="top:347.60px;height:10.4px;line-height:10.4px;font-size:6.5px;color:#999;-webkit-text-stroke:0.12px #999;left:539.40px;width:40px;text-align:center;transform:scaleX(0.8);transform-origin:50% 50%;">...</div>
<svg width="836" height="599" viewBox="0 0 836 599"><rect x="569.35" y="343.35" width="19.30" height="17.30" fill="#fff" stroke="#e6e6e6" stroke-width="0.7"/></svg>
<div class="t" style="top:347.60px;height:10.4px;line-height:10.4px;font-size:6.5px;color:#333;-webkit-text-stroke:0.12px #333;left:558.65px;width:40px;text-align:center;transform:scaleX(0.8);transform-origin:50% 50%;">22</div>
<svg width="836" height="599" viewBox="0 0 836 599"><rect x="588.65" y="343.35" width="28.90" height="17.30" fill="#fff" stroke="#e6e6e6" stroke-width="0.7"/></svg>
<div class="t" style="top:348.64px;height:8.32px;line-height:8.32px;font-size:5.2px;color:#333;-webkit-text-stroke:0.12px #333;left:582.75px;width:40px;text-align:center;">下一页</div>
<div class="t" style="top:348.24px;height:9.12px;line-height:9.12px;font-size:5.7px;color:#333;-webkit-text-stroke:0.12px #333;left:621.00px;">共</div>
<div class="t" style="top:347.68px;height:10.24px;line-height:10.24px;font-size:6.4px;color:#333;-webkit-text-stroke:0.12px #333;left:626.70px;transform:scaleX(0.8);transform-origin:0 50%;"> 110 </div>
<div class="t" style="top:348.24px;height:9.12px;line-height:9.12px;font-size:5.7px;color:#333;-webkit-text-stroke:0.12px #333;left:638.09px;">条</div>
<div class="t" style="top:348.44px;height:8.32px;line-height:8.32px;font-size:5.2px;color:#aaa;-webkit-text-stroke:0.12px #aaa;left:650.50px;">到第</div>
<svg width="836" height="599" viewBox="0 0 836 599"><rect x="667.15" y="343.35" width="16.50" height="17.30" fill="#fff" stroke="#e6e6e6" stroke-width="0.7" rx="1"/></svg>
<div class="t" style="top:347.60px;height:10.4px;line-height:10.4px;font-size:6.5px;color:#333;-webkit-text-stroke:0.12px #333;left:665.40px;width:20px;text-align:center;transform:scaleX(0.8);transform-origin:50% 50%;">1</div>
<div class="t" style="top:348.44px;height:8.32px;line-height:8.32px;font-size:5.2px;color:#aaa;-webkit-text-stroke:0.12px #aaa;left:688.40px;">页</div>
<svg width="836" height="599" viewBox="0 0 836 599"><rect x="698.65" y="343.35" width="19.20" height="17.30" fill="#fff" stroke="#e6e6e6" stroke-width="0.7" rx="1"/></svg>
<div class="t" style="top:348.44px;height:8.32px;line-height:8.32px;font-size:5.2px;color:#333;-webkit-text-stroke:0.12px #333;left:693.20px;width:30px;text-align:center;">确定</div>
<svg width="836" height="599" viewBox="0 0 836 599"><rect x="77.90" y="379.00" width="370.80" height="200.00" fill="#fff"/><rect x="77.90" y="379.00" width="370.80" height="27.40" fill="#ededed"/><path d="M77.90 379.40 L448.70 379.40" stroke="#d9d9d9" stroke-width="0.8"/><path d="M77.90 578.60 L448.70 578.60" stroke="#d6d6d6" stroke-width="0.8"/><path d="M78.30 379.00 L78.30 579.00" stroke="#e2e2e2" stroke-width="0.8"/><path d="M448.30 379.00 L448.30 579.00" stroke="#e2e2e2" stroke-width="0.8"/></svg>
<div class="t" style="top:389.00px;height:11.2px;line-height:11.2px;font-size:7.0px;color:#2a2a2a;-webkit-text-stroke:0.12px #2a2a2a;left:84.90px;transform:scaleX(0.88);transform-origin:0 50%;">本年度营收曲线</div>
<svg width="836" height="599" viewBox="0 0 836 599"><path d="M121.5 451.80 H406" stroke="#dadada" stroke-width="0.9"/><path d="M121.5 463.54 H406" stroke="#dadada" stroke-width="0.9"/><path d="M121.5 475.29 H406" stroke="#dadada" stroke-width="0.9"/><path d="M121.5 487.03 H406" stroke="#dadada" stroke-width="0.9"/><path d="M121.5 498.77 H406" stroke="#dadada" stroke-width="0.9"/><path d="M121.5 510.51 H406" stroke="#dadada" stroke-width="0.9"/><path d="M121.5 522.26 H406" stroke="#dadada" stroke-width="0.9"/><path d="M119.1 451.80 H121.5" stroke="#555" stroke-width="0.7"/><path d="M119.1 463.54 H121.5" stroke="#555" stroke-width="0.7"/><path d="M119.1 475.29 H121.5" stroke="#555" stroke-width="0.7"/><path d="M119.1 487.03 H121.5" stroke="#555" stroke-width="0.7"/><path d="M119.1 498.77 H121.5" stroke="#555" stroke-width="0.7"/><path d="M119.1 510.51 H121.5" stroke="#555" stroke-width="0.7"/><path d="M119.1 522.26 H121.5" stroke="#555" stroke-width="0.7"/><path d="M119.1 534.00 H121.5" stroke="#555" stroke-width="0.7"/><path d="M121.5 451.3 V534.5" stroke="#777" stroke-width="0.75"/><path d="M119.1 534.0 H406" stroke="#606060" stroke-width="0.85"/><path d="M120.92 534.0 V536.4" stroke="#555" stroke-width="0.7"/><path d="M144.68 534.0 V536.4" stroke="#555" stroke-width="0.7"/><path d="M168.44 534.0 V536.4" stroke="#555" stroke-width="0.7"/><path d="M192.20 534.0 V536.4" stroke="#555" stroke-width="0.7"/><path d="M215.96 534.0 V536.4" stroke="#555" stroke-width="0.7"/><path d="M239.72 534.0 V536.4" stroke="#555" stroke-width="0.7"/><path d="M263.48 534.0 V536.4" stroke="#555" stroke-width="0.7"/><path d="M287.24 534.0 V536.4" stroke="#555" stroke-width="0.7"/><path d="M311.00 534.0 V536.4" stroke="#555" stroke-width="0.7"/><path d="M334.76 534.0 V536.4" stroke="#555" stroke-width="0.7"/><path d="M358.52 534.0 V536.4" stroke="#555" stroke-width="0.7"/><path d="M382.28 534.0 V536.4" stroke="#555" stroke-width="0.7"/><path d="M406.04 534.0 V536.4" stroke="#555" stroke-width="0.7"/><path d="M132.80 462.5 C134 468 147.5 498.5 156.56 510.9 C163 522 171 531.5 180.32 534.0 H394.16" fill="none" stroke="#2b9df0" stroke-width="1.3" stroke-linejoin="round" stroke-linecap="round"/><ellipse cx="132.80" cy="462.50" rx="1.05" ry="1.45" fill="#fff" fill-opacity="0.7" stroke="#2b9df0" stroke-width="0.5" stroke-opacity="0.6"/><ellipse cx="156.56" cy="510.90" rx="1.05" ry="1.45" fill="#fff" fill-opacity="0.7" stroke="#2b9df0" stroke-width="0.5" stroke-opacity="0.6"/><path d="M132.80 527.80 C132.80 527.80 147.06 534.00 156.56 534.00 C166.06 534.00 170.82 534.00 180.32 534.00 C189.82 534.00 194.58 534.00 204.08 534.00 C213.58 534.00 218.34 534.00 227.84 534.00 C237.34 534.00 242.10 534.00 251.60 534.00 C261.10 534.00 265.86 534.00 275.36 534.00 C284.86 534.00 289.62 534.00 299.12 534.00 C308.62 534.00 313.38 534.00 322.88 534.00 C332.38 534.00 337.14 534.00 346.64 534.00 C356.14 534.00 360.90 534.00 370.40 534.00 C379.90 534.00 394.16 534.00 394.16 534.00" fill="none" stroke="#FF5722" stroke-width="1.3" stroke-linejoin="round" stroke-linecap="round"/><ellipse cx="132.80" cy="527.80" rx="1.05" ry="1.45" fill="#fff" fill-opacity="0.7" stroke="#FF5722" stroke-width="0.5" stroke-opacity="0.6"/><path d="M132.80 525.20 C132.80 525.20 147.06 534.00 156.56 534.00 C166.06 534.00 170.82 534.00 180.32 534.00 C189.82 534.00 194.58 534.00 204.08 534.00 C213.58 534.00 218.34 534.00 227.84 534.00 C237.34 534.00 242.10 534.00 251.60 534.00 C261.10 534.00 265.86 534.00 275.36 534.00 C284.86 534.00 289.62 534.00 299.12 534.00 C308.62 534.00 313.38 534.00 322.88 534.00 C332.38 534.00 337.14 534.00 346.64 534.00 C356.14 534.00 360.90 534.00 370.40 534.00 C379.90 534.00 394.16 534.00 394.16 534.00" fill="none" stroke="#FFB800" stroke-width="1.3" stroke-linejoin="round" stroke-linecap="round"/><ellipse cx="132.80" cy="525.20" rx="1.05" ry="1.45" fill="#fff" fill-opacity="0.7" stroke="#FFB800" stroke-width="0.5" stroke-opacity="0.6"/><ellipse cx="156.56" cy="534.00" rx="1.05" ry="1.45" fill="#fff" fill-opacity="0.7" stroke="#FFB800" stroke-width="0.5" stroke-opacity="0.6"/><ellipse cx="180.32" cy="534.00" rx="1.05" ry="1.45" fill="#fff" fill-opacity="0.7" stroke="#FFB800" stroke-width="0.5" stroke-opacity="0.6"/><ellipse cx="204.08" cy="534.00" rx="1.05" ry="1.45" fill="#fff" fill-opacity="0.7" stroke="#FFB800" stroke-width="0.5" stroke-opacity="0.6"/><ellipse cx="227.84" cy="534.00" rx="1.05" ry="1.45" fill="#fff" fill-opacity="0.7" stroke="#FFB800" stroke-width="0.5" stroke-opacity="0.6"/><ellipse cx="251.60" cy="534.00" rx="1.05" ry="1.45" fill="#fff" fill-opacity="0.7" stroke="#FFB800" stroke-width="0.5" stroke-opacity="0.6"/><ellipse cx="275.36" cy="534.00" rx="1.05" ry="1.45" fill="#fff" fill-opacity="0.7" stroke="#FFB800" stroke-width="0.5" stroke-opacity="0.6"/><ellipse cx="299.12" cy="534.00" rx="1.05" ry="1.45" fill="#fff" fill-opacity="0.7" stroke="#FFB800" stroke-width="0.5" stroke-opacity="0.6"/><ellipse cx="322.88" cy="534.00" rx="1.05" ry="1.45" fill="#fff" fill-opacity="0.7" stroke="#FFB800" stroke-width="0.5" stroke-opacity="0.6"/><ellipse cx="346.64" cy="534.00" rx="1.05" ry="1.45" fill="#fff" fill-opacity="0.7" stroke="#FFB800" stroke-width="0.5" stroke-opacity="0.6"/><ellipse cx="370.40" cy="534.00" rx="1.05" ry="1.45" fill="#fff" fill-opacity="0.7" stroke="#FFB800" stroke-width="0.5" stroke-opacity="0.6"/><ellipse cx="394.16" cy="534.00" rx="1.05" ry="1.45" fill="#fff" fill-opacity="0.7" stroke="#FFB800" stroke-width="0.5" stroke-opacity="0.6"/><path d="M223.70000000000002 420.3 H233.9" stroke="#2b9df0" stroke-width="0.8"/><ellipse cx="228.8" cy="420.3" rx="2.3" ry="3.9" fill="#fff" stroke="#2b9df0" stroke-width="0.8"/><path d="M252.1 420.3 H262.3" stroke="#FF5722" stroke-width="0.8"/><ellipse cx="257.2" cy="420.3" rx="2.3" ry="3.9" fill="#fff" stroke="#FF5722" stroke-width="0.8"/><path d="M280.29999999999995 420.3 H290.5" stroke="#FFB800" stroke-width="0.8"/><ellipse cx="285.4" cy="420.3" rx="2.3" ry="3.9" fill="#fff" stroke="#FFB800" stroke-width="0.8"/></svg>
<div class="t" style="top:415.28px;height:11.84px;line-height:11.84px;font-size:7.4px;color:#333;-webkit-text-stroke:0.12px #333;left:236.80px;transform:scaleX(0.72);transform-origin:0 50%;">收费</div>
<div class="t" style="top:415.28px;height:11.84px;line-height:11.84px;font-size:7.4px;color:#333;-webkit-text-stroke:0.12px #333;left:265.20px;transform:scaleX(0.72);transform-origin:0 50%;">退费</div>
<div class="t" style="top:415.28px;height:11.84px;line-height:11.84px;font-size:7.4px;color:#333;-webkit-text-stroke:0.12px #333;left:293.50px;transform:scaleX(0.72);transform-origin:0 50%;">补购</div>
<div class="t" style="top:432.78px;height:11.84px;line-height:11.84px;font-size:7.4px;color:#333;-webkit-text-stroke:0.12px #333;left:107.70px;transform:scaleX(0.74);transform-origin:0 50%;">金额  (元)</div>
<div class="t" style="top:446.40px;height:12.0px;line-height:12.0px;font-size:7.5px;color:#333;-webkit-text-stroke:0.12px #333;left:77.90px;width:40px;text-align:right;transform:scaleX(0.72);transform-origin:100% 50%;">35,000</div>
<div class="t" style="top:458.14px;height:12.0px;line-height:12.0px;font-size:7.5px;color:#333;-webkit-text-stroke:0.12px #333;left:77.90px;width:40px;text-align:right;transform:scaleX(0.72);transform-origin:100% 50%;">30,000</div>
<div class="t" style="top:469.89px;height:12.0px;line-height:12.0px;font-size:7.5px;color:#333;-webkit-text-stroke:0.12px #333;left:77.90px;width:40px;text-align:right;transform:scaleX(0.72);transform-origin:100% 50%;">25,000</div>
<div class="t" style="top:481.63px;height:12.0px;line-height:12.0px;font-size:7.5px;color:#333;-webkit-text-stroke:0.12px #333;left:77.90px;width:40px;text-align:right;transform:scaleX(0.72);transform-origin:100% 50%;">20,000</div>
<div class="t" style="top:493.37px;height:12.0px;line-height:12.0px;font-size:7.5px;color:#333;-webkit-text-stroke:0.12px #333;left:77.90px;width:40px;text-align:right;transform:scaleX(0.72);transform-origin:100% 50%;">15,000</div>
<div class="t" style="top:505.11px;height:12.0px;line-height:12.0px;font-size:7.5px;color:#333;-webkit-text-stroke:0.12px #333;left:77.90px;width:40px;text-align:right;transform:scaleX(0.72);transform-origin:100% 50%;">10,000</div>
<div class="t" style="top:516.86px;height:12.0px;line-height:12.0px;font-size:7.5px;color:#333;-webkit-text-stroke:0.12px #333;left:77.90px;width:40px;text-align:right;transform:scaleX(0.72);transform-origin:100% 50%;">5,000</div>
<div class="t" style="top:528.60px;height:12.0px;line-height:12.0px;font-size:7.5px;color:#333;-webkit-text-stroke:0.12px #333;left:77.90px;width:40px;text-align:right;transform:scaleX(0.72);transform-origin:100% 50%;">0</div>
<div class="t" style="top:537.14px;height:12.32px;line-height:12.32px;font-size:7.7px;color:#333;-webkit-text-stroke:0.12px #333;left:123.00px;width:20px;text-align:center;transform:scaleX(0.7);transform-origin:50% 50%;">1</div>
<div class="t" style="top:537.14px;height:12.32px;line-height:12.32px;font-size:7.7px;color:#333;-webkit-text-stroke:0.12px #333;left:146.76px;width:20px;text-align:center;transform:scaleX(0.7);transform-origin:50% 50%;">2</div>
<div class="t" style="top:537.14px;height:12.32px;line-height:12.32px;font-size:7.7px;color:#333;-webkit-text-stroke:0.12px #333;left:170.52px;width:20px;text-align:center;transform:scaleX(0.7);transform-origin:50% 50%;">3</div>
<div class="t" style="top:537.14px;height:12.32px;line-height:12.32px;font-size:7.7px;color:#333;-webkit-text-stroke:0.12px #333;left:194.28px;width:20px;text-align:center;transform:scaleX(0.7);transform-origin:50% 50%;">4</div>
<div class="t" style="top:537.14px;height:12.32px;line-height:12.32px;font-size:7.7px;color:#333;-webkit-text-stroke:0.12px #333;left:218.04px;width:20px;text-align:center;transform:scaleX(0.7);transform-origin:50% 50%;">5</div>
<div class="t" style="top:537.14px;height:12.32px;line-height:12.32px;font-size:7.7px;color:#333;-webkit-text-stroke:0.12px #333;left:241.80px;width:20px;text-align:center;transform:scaleX(0.7);transform-origin:50% 50%;">6</div>
<div class="t" style="top:537.14px;height:12.32px;line-height:12.32px;font-size:7.7px;color:#333;-webkit-text-stroke:0.12px #333;left:265.56px;width:20px;text-align:center;transform:scaleX(0.7);transform-origin:50% 50%;">7</div>
<div class="t" style="top:537.14px;height:12.32px;line-height:12.32px;font-size:7.7px;color:#333;-webkit-text-stroke:0.12px #333;left:289.32px;width:20px;text-align:center;transform:scaleX(0.7);transform-origin:50% 50%;">8</div>
<div class="t" style="top:537.14px;height:12.32px;line-height:12.32px;font-size:7.7px;color:#333;-webkit-text-stroke:0.12px #333;left:313.08px;width:20px;text-align:center;transform:scaleX(0.7);transform-origin:50% 50%;">9</div>
<div class="t" style="top:537.14px;height:12.32px;line-height:12.32px;font-size:7.7px;color:#333;-webkit-text-stroke:0.12px #333;left:336.84px;width:20px;text-align:center;transform:scaleX(0.7);transform-origin:50% 50%;">10</div>
<div class="t" style="top:537.14px;height:12.32px;line-height:12.32px;font-size:7.7px;color:#333;-webkit-text-stroke:0.12px #333;left:360.60px;width:20px;text-align:center;transform:scaleX(0.7);transform-origin:50% 50%;">11</div>
<div class="t" style="top:537.14px;height:12.32px;line-height:12.32px;font-size:7.7px;color:#333;-webkit-text-stroke:0.12px #333;left:384.36px;width:20px;text-align:center;transform:scaleX(0.7);transform-origin:50% 50%;">12</div>
<div class="t" style="top:529.18px;height:11.84px;line-height:11.84px;font-size:7.4px;color:#333;-webkit-text-stroke:0.12px #333;left:412.20px;transform:scaleX(0.74);transform-origin:0 50%;">月</div>
<svg width="836" height="599" viewBox="0 0 836 599"><rect x="452.90" y="379.00" width="375.00" height="200.00" fill="#fff"/><rect x="452.90" y="379.00" width="375.00" height="27.40" fill="#ededed"/><path d="M452.90 379.40 L827.90 379.40" stroke="#d9d9d9" stroke-width="0.8"/><path d="M452.90 578.60 L827.90 578.60" stroke="#d6d6d6" stroke-width="0.8"/><path d="M453.30 379.00 L453.30 579.00" stroke="#e2e2e2" stroke-width="0.8"/><path d="M827.50 379.00 L827.50 579.00" stroke="#e2e2e2" stroke-width="0.8"/></svg>
<div class="t" style="top:389.00px;height:11.2px;line-height:11.2px;font-size:7.0px;color:#2a2a2a;-webkit-text-stroke:0.12px #2a2a2a;left:459.90px;transform:scaleX(0.88);transform-origin:0 50%;">本年度费用曲线</div>
<svg width="836" height="599" viewBox="0 0 836 599"><path d="M496.2 451.80 H784" stroke="#dadada" stroke-width="0.9"/><path d="M496.2 465.50 H784" stroke="#dadada" stroke-width="0.9"/><path d="M496.2 479.20 H784" stroke="#dadada" stroke-width="0.9"/><path d="M496.2 492.90 H784" stroke="#dadada" stroke-width="0.9"/><path d="M496.2 506.60 H784" stroke="#dadada" stroke-width="0.9"/><path d="M496.2 520.30 H784" stroke="#dadada" stroke-width="0.9"/><path d="M493.8 451.80 H496.2" stroke="#555" stroke-width="0.7"/><path d="M493.8 465.50 H496.2" stroke="#555" stroke-width="0.7"/><path d="M493.8 479.20 H496.2" stroke="#555" stroke-width="0.7"/><path d="M493.8 492.90 H496.2" stroke="#555" stroke-width="0.7"/><path d="M493.8 506.60 H496.2" stroke="#555" stroke-width="0.7"/><path d="M493.8 520.30 H496.2" stroke="#555" stroke-width="0.7"/><path d="M493.8 534.00 H496.2" stroke="#555" stroke-width="0.7"/><path d="M496.2 451.3 V534.5" stroke="#777" stroke-width="0.75"/><path d="M493.8 534.0 H784" stroke="#606060" stroke-width="0.85"/><path d="M495.76 534.0 V536.4" stroke="#555" stroke-width="0.7"/><path d="M519.84 534.0 V536.4" stroke="#555" stroke-width="0.7"/><path d="M543.92 534.0 V536.4" stroke="#555" stroke-width="0.7"/><path d="M568.00 534.0 V536.4" stroke="#555" stroke-width="0.7"/><path d="M592.08 534.0 V536.4" stroke="#555" stroke-width="0.7"/><path d="M616.16 534.0 V536.4" stroke="#555" stroke-width="0.7"/><path d="M640.24 534.0 V536.4" stroke="#555" stroke-width="0.7"/><path d="M664.32 534.0 V536.4" stroke="#555" stroke-width="0.7"/><path d="M688.40 534.0 V536.4" stroke="#555" stroke-width="0.7"/><path d="M712.48 534.0 V536.4" stroke="#555" stroke-width="0.7"/><path d="M736.56 534.0 V536.4" stroke="#555" stroke-width="0.7"/><path d="M760.64 534.0 V536.4" stroke="#555" stroke-width="0.7"/><path d="M784.72 534.0 V536.4" stroke="#555" stroke-width="0.7"/><path d="M507.80 455.00 C507.80 455.00 522.25 512.20 531.88 523.10 C541.51 534.00 546.33 534.00 555.96 534.00 C565.59 534.00 570.41 534.00 580.04 534.00 C589.67 534.00 594.49 534.00 604.12 534.00 C613.75 534.00 618.57 534.00 628.20 534.00 C637.83 534.00 642.65 534.00 652.28 534.00 C661.91 534.00 666.73 534.00 676.36 534.00 C685.99 534.00 690.81 534.00 700.44 534.00 C710.07 534.00 714.89 534.00 724.52 534.00 C734.15 534.00 738.97 534.00 748.60 534.00 C758.23 534.00 772.68 534.00 772.68 534.00" fill="none" stroke="#2b9df0" stroke-width="1.3" stroke-linejoin="round" stroke-linecap="round"/><ellipse cx="507.80" cy="455.00" rx="1.05" ry="1.45" fill="#fff" fill-opacity="0.7" stroke="#2b9df0" stroke-width="0.5" stroke-opacity="0.6"/><ellipse cx="531.88" cy="523.10" rx="1.05" ry="1.45" fill="#fff" fill-opacity="0.7" stroke="#2b9df0" stroke-width="0.5" stroke-opacity="0.6"/><path d="M507.80 519.30 C507.80 519.30 522.25 529.00 531.88 531.50 C541.51 534.00 546.33 534.00 555.96 534.00 C565.59 534.00 570.41 534.00 580.04 534.00 C589.67 534.00 594.49 534.00 604.12 534.00 C613.75 534.00 618.57 534.00 628.20 534.00 C637.83 534.00 642.65 534.00 652.28 534.00 C661.91 534.00 666.73 534.00 676.36 534.00 C685.99 534.00 690.81 534.00 700.44 534.00 C710.07 534.00 714.89 534.00 724.52 534.00 C734.15 534.00 738.97 534.00 748.60 534.00 C758.23 534.00 772.68 534.00 772.68 534.00" fill="none" stroke="#FF5722" stroke-width="1.3" stroke-linejoin="round" stroke-linecap="round"/><ellipse cx="507.80" cy="519.30" rx="1.05" ry="1.45" fill="#fff" fill-opacity="0.7" stroke="#FF5722" stroke-width="0.5" stroke-opacity="0.6"/><ellipse cx="531.88" cy="531.50" rx="1.05" ry="1.45" fill="#fff" fill-opacity="0.7" stroke="#FF5722" stroke-width="0.5" stroke-opacity="0.6"/><path d="M507.8 534.0 H772.7" fill="none" stroke="#FFB800" stroke-width="1.3" stroke-linejoin="round" stroke-linecap="round"/><ellipse cx="507.80" cy="534.00" rx="1.05" ry="1.45" fill="#fff" fill-opacity="0.7" stroke="#FFB800" stroke-width="0.5" stroke-opacity="0.6"/><ellipse cx="531.88" cy="534.00" rx="1.05" ry="1.45" fill="#fff" fill-opacity="0.7" stroke="#FFB800" stroke-width="0.5" stroke-opacity="0.6"/><ellipse cx="555.96" cy="534.00" rx="1.05" ry="1.45" fill="#fff" fill-opacity="0.7" stroke="#FFB800" stroke-width="0.5" stroke-opacity="0.6"/><ellipse cx="580.04" cy="534.00" rx="1.05" ry="1.45" fill="#fff" fill-opacity="0.7" stroke="#FFB800" stroke-width="0.5" stroke-opacity="0.6"/><ellipse cx="604.12" cy="534.00" rx="1.05" ry="1.45" fill="#fff" fill-opacity="0.7" stroke="#FFB800" stroke-width="0.5" stroke-opacity="0.6"/><ellipse cx="628.20" cy="534.00" rx="1.05" ry="1.45" fill="#fff" fill-opacity="0.7" stroke="#FFB800" stroke-width="0.5" stroke-opacity="0.6"/><ellipse cx="652.28" cy="534.00" rx="1.05" ry="1.45" fill="#fff" fill-opacity="0.7" stroke="#FFB800" stroke-width="0.5" stroke-opacity="0.6"/><ellipse cx="676.36" cy="534.00" rx="1.05" ry="1.45" fill="#fff" fill-opacity="0.7" stroke="#FFB800" stroke-width="0.5" stroke-opacity="0.6"/><ellipse cx="700.44" cy="534.00" rx="1.05" ry="1.45" fill="#fff" fill-opacity="0.7" stroke="#FFB800" stroke-width="0.5" stroke-opacity="0.6"/><ellipse cx="724.52" cy="534.00" rx="1.05" ry="1.45" fill="#fff" fill-opacity="0.7" stroke="#FFB800" stroke-width="0.5" stroke-opacity="0.6"/><ellipse cx="748.60" cy="534.00" rx="1.05" ry="1.45" fill="#fff" fill-opacity="0.7" stroke="#FFB800" stroke-width="0.5" stroke-opacity="0.6"/><ellipse cx="772.68" cy="534.00" rx="1.05" ry="1.45" fill="#fff" fill-opacity="0.7" stroke="#FFB800" stroke-width="0.5" stroke-opacity="0.6"/><path d="M600.8 420.3 H611.0" stroke="#2b9df0" stroke-width="0.8"/><ellipse cx="605.9" cy="420.3" rx="2.3" ry="3.9" fill="#fff" stroke="#2b9df0" stroke-width="0.8"/><path d="M628.9 420.3 H639.1" stroke="#FF5722" stroke-width="0.8"/><ellipse cx="634" cy="420.3" rx="2.3" ry="3.9" fill="#fff" stroke="#FF5722" stroke-width="0.8"/><path d="M656.3 420.3 H666.5" stroke="#FFB800" stroke-width="0.8"/><ellipse cx="661.4" cy="420.3" rx="2.3" ry="3.9" fill="#fff" stroke="#FFB800" stroke-width="0.8"/></svg>
<div class="t" style="top:415.28px;height:11.84px;line-height:11.84px;font-size:7.4px;color:#333;-webkit-text-stroke:0.12px #333;left:613.50px;transform:scaleX(0.72);transform-origin:0 50%;">电费</div>
<div class="t" style="top:415.28px;height:11.84px;line-height:11.84px;font-size:7.4px;color:#333;-webkit-text-stroke:0.12px #333;left:641.10px;transform:scaleX(0.72);transform-origin:0 50%;">水费</div>
<div class="t" style="top:415.28px;height:11.84px;line-height:11.84px;font-size:7.4px;color:#333;-webkit-text-stroke:0.12px #333;left:669.80px;transform:scaleX(0.72);transform-origin:0 50%;">气费</div>
<div class="t" style="top:432.78px;height:11.84px;line-height:11.84px;font-size:7.4px;color:#333;-webkit-text-stroke:0.12px #333;left:482.80px;transform:scaleX(0.74);transform-origin:0 50%;">金额  (元)</div>
<div class="t" style="top:446.40px;height:12.0px;line-height:12.0px;font-size:7.5px;color:#333;-webkit-text-stroke:0.12px #333;left:452.60px;width:40px;text-align:right;transform:scaleX(0.72);transform-origin:100% 50%;">30,000</div>
<div class="t" style="top:460.10px;height:12.0px;line-height:12.0px;font-size:7.5px;color:#333;-webkit-text-stroke:0.12px #333;left:452.60px;width:40px;text-align:right;transform:scaleX(0.72);transform-origin:100% 50%;">25,000</div>
<div class="t" style="top:473.80px;height:12.0px;line-height:12.0px;font-size:7.5px;color:#333;-webkit-text-stroke:0.12px #333;left:452.60px;width:40px;text-align:right;transform:scaleX(0.72);transform-origin:100% 50%;">20,000</div>
<div class="t" style="top:487.50px;height:12.0px;line-height:12.0px;font-size:7.5px;color:#333;-webkit-text-stroke:0.12px #333;left:452.60px;width:40px;text-align:right;transform:scaleX(0.72);transform-origin:100% 50%;">15,000</div>
<div class="t" style="top:501.20px;height:12.0px;line-height:12.0px;font-size:7.5px;color:#333;-webkit-text-stroke:0.12px #333;left:452.60px;width:40px;text-align:right;transform:scaleX(0.72);transform-origin:100% 50%;">10,000</div>
<div class="t" style="top:514.90px;height:12.0px;line-height:12.0px;font-size:7.5px;color:#333;-webkit-text-stroke:0.12px #333;left:452.60px;width:40px;text-align:right;transform:scaleX(0.72);transform-origin:100% 50%;">5,000</div>
<div class="t" style="top:528.60px;height:12.0px;line-height:12.0px;font-size:7.5px;color:#333;-webkit-text-stroke:0.12px #333;left:452.60px;width:40px;text-align:right;transform:scaleX(0.72);transform-origin:100% 50%;">0</div>
<div class="t" style="top:537.14px;height:12.32px;line-height:12.32px;font-size:7.7px;color:#333;-webkit-text-stroke:0.12px #333;left:498.00px;width:20px;text-align:center;transform:scaleX(0.7);transform-origin:50% 50%;">1</div>
<div class="t" style="top:537.14px;height:12.32px;line-height:12.32px;font-size:7.7px;color:#333;-webkit-text-stroke:0.12px #333;left:522.08px;width:20px;text-align:center;transform:scaleX(0.7);transform-origin:50% 50%;">2</div>
<div class="t" style="top:537.14px;height:12.32px;line-height:12.32px;font-size:7.7px;color:#333;-webkit-text-stroke:0.12px #333;left:546.16px;width:20px;text-align:center;transform:scaleX(0.7);transform-origin:50% 50%;">3</div>
<div class="t" style="top:537.14px;height:12.32px;line-height:12.32px;font-size:7.7px;color:#333;-webkit-text-stroke:0.12px #333;left:570.24px;width:20px;text-align:center;transform:scaleX(0.7);transform-origin:50% 50%;">4</div>
<div class="t" style="top:537.14px;height:12.32px;line-height:12.32px;font-size:7.7px;color:#333;-webkit-text-stroke:0.12px #333;left:594.32px;width:20px;text-align:center;transform:scaleX(0.7);transform-origin:50% 50%;">5</div>
<div class="t" style="top:537.14px;height:12.32px;line-height:12.32px;font-size:7.7px;color:#333;-webkit-text-stroke:0.12px #333;left:618.40px;width:20px;text-align:center;transform:scaleX(0.7);transform-origin:50% 50%;">6</div>
<div class="t" style="top:537.14px;height:12.32px;line-height:12.32px;font-size:7.7px;color:#333;-webkit-text-stroke:0.12px #333;left:642.48px;width:20px;text-align:center;transform:scaleX(0.7);transform-origin:50% 50%;">7</div>
<div class="t" style="top:537.14px;height:12.32px;line-height:12.32px;font-size:7.7px;color:#333;-webkit-text-stroke:0.12px #333;left:666.56px;width:20px;text-align:center;transform:scaleX(0.7);transform-origin:50% 50%;">8</div>
<div class="t" style="top:537.14px;height:12.32px;line-height:12.32px;font-size:7.7px;color:#333;-webkit-text-stroke:0.12px #333;left:690.64px;width:20px;text-align:center;transform:scaleX(0.7);transform-origin:50% 50%;">9</div>
<div class="t" style="top:537.14px;height:12.32px;line-height:12.32px;font-size:7.7px;color:#333;-webkit-text-stroke:0.12px #333;left:714.72px;width:20px;text-align:center;transform:scaleX(0.7);transform-origin:50% 50%;">10</div>
<div class="t" style="top:537.14px;height:12.32px;line-height:12.32px;font-size:7.7px;color:#333;-webkit-text-stroke:0.12px #333;left:738.80px;width:20px;text-align:center;transform:scaleX(0.7);transform-origin:50% 50%;">11</div>
<div class="t" style="top:537.14px;height:12.32px;line-height:12.32px;font-size:7.7px;color:#333;-webkit-text-stroke:0.12px #333;left:762.88px;width:20px;text-align:center;transform:scaleX(0.7);transform-origin:50% 50%;">12</div>
<div class="t" style="top:529.18px;height:11.84px;line-height:11.84px;font-size:7.4px;color:#333;-webkit-text-stroke:0.12px #333;left:790.70px;transform:scaleX(0.74);transform-origin:0 50%;">月</div>
</div></body></html>
